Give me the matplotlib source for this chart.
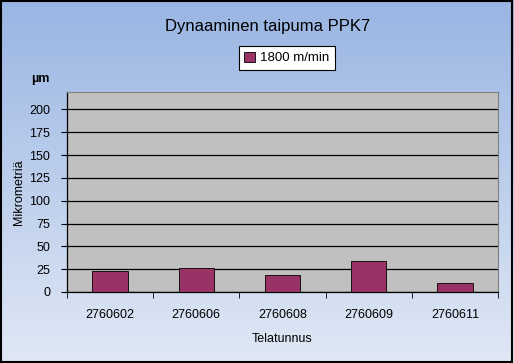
import matplotlib.pyplot as plt
import numpy as np

plt.rcParams['font.family'] = ['Liberation Sans', 'DejaVu Sans']

# data
rolls = ['2760602', '2760606', '2760608', '2760609', '2760611']
values = [23, 26, 18.5, 34, 10]
yticks = [0, 25, 50, 75, 100, 125, 150, 175, 200]

fig = plt.figure(figsize=(5.14, 3.63), dpi=100)

# blue gradient background over the whole figure
bg = fig.add_axes([0, 0, 1, 1], zorder=-10)
grad = np.linspace(0, 1, 256).reshape(-1, 1)
top = np.array([0.60, 0.71, 0.89])
bottom = np.array([0.88, 0.91, 0.96])
img = top + (bottom - top) * grad[..., None]
bg.imshow(img, aspect='auto', extent=[0, 1, 0, 1])
bg.set_xlim(0, 1)
bg.set_ylim(0, 1)
bg.axis('off')
bg.add_patch(plt.Rectangle((0.002, 0.003), 0.994, 0.993, fill=False,
                           edgecolor='black', linewidth=1.5, transform=bg.transAxes))

W, H = 514, 363
ax = fig.add_axes([67 / W, 1 - 292 / H, (498 - 67) / W, (292 - 92) / H])
ax.set_facecolor('#c0c0c0')
x = np.arange(len(rolls))
ax.bar(x, values, width=0.41, color='#993366', edgecolor='black', linewidth=0.6,
       label='1800 m/min', zorder=3)
ax.set_xlim(-0.5, len(rolls) - 0.5)
ax.set_ylim(0, 219)
ax.set_yticks(yticks)
ax.set_xticks(x)
ax.set_xticklabels(rolls)
ax.set_xticks(np.arange(-0.5, len(rolls), 1), minor=True)
ax.tick_params(axis='x', which='major', length=0, labelsize=9, pad=12)
ax.tick_params(axis='x', which='minor', length=4, direction='out')
ax.tick_params(axis='y', length=4, direction='out', labelsize=9, pad=8)
ax.yaxis.grid(True, color='black', linewidth=0.9, zorder=1)
ax.set_axisbelow(True)
for side in ['top', 'right']:
    ax.spines[side].set_color('#808080')
    ax.spines[side].set_linewidth(0.8)
ax.spines['left'].set_linewidth(0.9)
ax.spines['bottom'].set_linewidth(0.9)

ax.set_xlabel('Telatunnus', fontsize=9, labelpad=9)
ax.set_ylabel('Mikrometriä', fontsize=9, labelpad=3)

fig.text(268 / W, 1 - 27 / H, 'Dynaaminen taipuma PPK7', fontsize=12,
         ha='center', va='center')
fig.text(40 / W, 1 - 79 / H, 'µm', fontsize=9, fontweight='bold',
         ha='center', va='center')

leg = ax.legend(loc='center', bbox_to_anchor=(287 / W, 1 - 58 / H),
                bbox_transform=fig.transFigure, frameon=True, fancybox=False,
                fontsize=9.5, handlelength=0.8, handleheight=0.8,
                handletextpad=0.4, borderpad=0.4)
leg.get_frame().set_edgecolor('black')
leg.get_frame().set_linewidth(0.8)
leg.get_frame().set_facecolor('white')
leg.get_frame().set_alpha(1)

fig.savefig('out.png', dpi=100)
